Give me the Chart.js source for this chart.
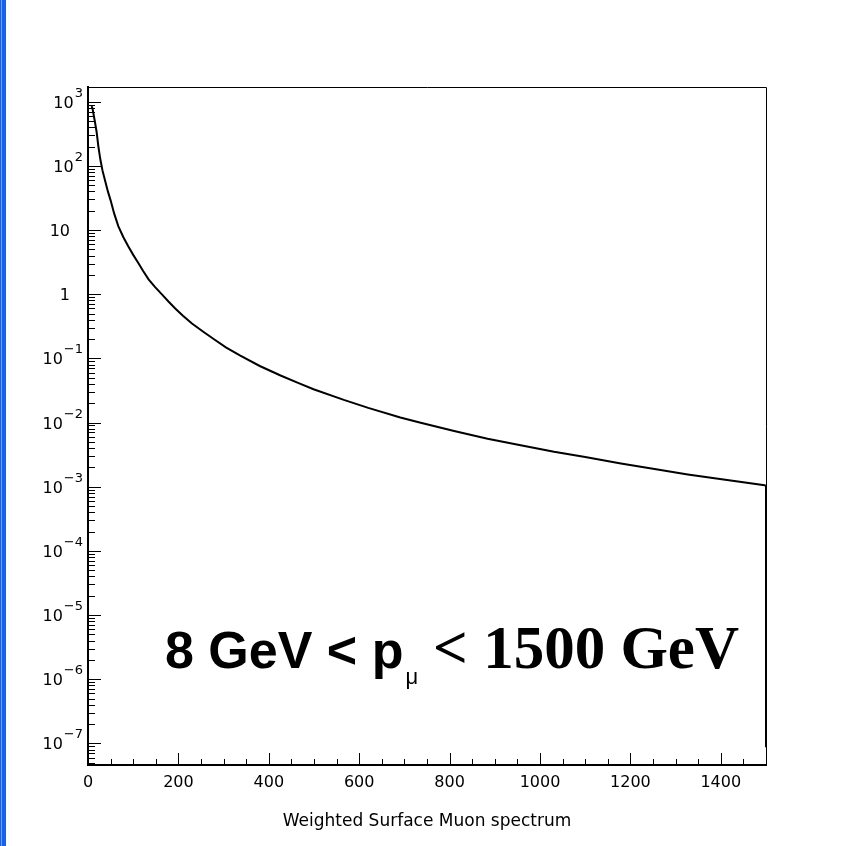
<!DOCTYPE html>
<html><head><meta charset="utf-8">
<script src="https://cdn.jsdelivr.net/npm/chart.js@4"></script>
<style>html,body{margin:0;padding:0;background:#fff;}canvas{display:block;}</style>
</head><body>
<canvas id="c" width="842" height="846"></canvas>
<script>
// Weighted surface muon spectrum
const momentum = [8, 10, 15, 19, 23, 27, 32, 38, 44, 50, 58, 67, 78, 89, 100, 111, 122, 134, 148, 163, 178, 193, 210, 230, 255, 278, 305, 337, 380, 426, 466, 499, 566, 620, 691, 736, 810, 884, 960, 1031, 1100, 1179, 1250, 1327, 1410, 1497, 1500, 1500];
const counts = [850, 780, 500, 340, 200, 130, 85, 58, 40, 29, 18, 11.5, 7.8, 5.6, 4.1, 3.1, 2.3, 1.7, 1.3, 1.0, 0.77, 0.60, 0.46, 0.35, 0.26, 0.20, 0.148, 0.11, 0.076, 0.054, 0.041, 0.033, 0.0225, 0.0169, 0.0120, 0.0099, 0.0074, 0.0056, 0.0044, 0.0035, 0.0029, 0.0023, 0.0019, 0.00155, 0.00128, 0.00105, 0.00103, 8.7e-8];
const yTickValues = [1e-7, 1e-6, 1e-5, 1e-4, 1e-3, 1e-2, 1e-1, 1, 10, 100, 1000];
const yTickBase = ['10', '10', '10', '10', '10', '10', '10', '1', '10', '10', '10'];
const yTickExp = ['\u22127', '\u22126', '\u22125', '\u22124', '\u22123', '\u22122', '\u22121', '', '', '2', '3'];
const xTickValues = [0, 200, 400, 600, 800, 1000, 1200, 1400];
const xTickLabels = ['0', '200', '400', '600', '800', '1000', '1200', '1400'];
const xTitle = 'Weighted Surface Muon spectrum';
const noteLeft = '8 GeV < p';
const noteSub = '\u03BC';
const noteRight = '< 1500 GeV';

const Y_MIN = 4.6e-8, Y_MAX = 1694, X_MIN = 0, X_MAX = 1500;

const decor = {
  id: 'decor',
  beforeDraw(chart) {
    const ctx = chart.ctx;
    ctx.save();
    ctx.fillStyle = '#ffffff';
    ctx.fillRect(0, 0, chart.width, chart.height);
    ctx.fillStyle = '#1560f2';
    ctx.fillRect(0, 0, 6, chart.height);
    ctx.fillStyle = '#6fa0ff';
    ctx.fillRect(1, 0, 1, chart.height);
    ctx.restore();
  },
  afterDatasetsDraw(chart) {
    const ctx = chart.ctx;
    const a = chart.chartArea;
    const xs = chart.scales.x, ys = chart.scales.y;
    ctx.save();
    // top & right frame
    ctx.strokeStyle = '#000';
    ctx.lineWidth = 1;
    ctx.beginPath();
    ctx.moveTo(a.left, a.top + 0.5); ctx.lineTo(a.right + 0.5, a.top + 0.5);
    ctx.lineTo(a.right + 0.5, a.bottom);
    ctx.stroke();
    // inner ticks on y
    ctx.beginPath();
    for (let e = -8; e <= 3; e++) {
      for (let m = 1; m <= 9; m++) {
        const v = m * Math.pow(10, e);
        if (v < Y_MIN || v > Y_MAX) continue;
        const py = Math.round(ys.getPixelForValue(v)) + 0.5;
        const len = m === 1 ? 13 : 7;
        ctx.moveTo(a.left, py); ctx.lineTo(a.left + len, py);
      }
    }
    // inner ticks on x
    for (let v = X_MIN; v <= X_MAX; v += 50) {
      const px = Math.round(xs.getPixelForValue(v)) + 0.5;
      const len = (v % 200 === 0) ? 12 : 6;
      ctx.moveTo(px, a.bottom); ctx.lineTo(px, a.bottom - len);
    }
    ctx.stroke();
    // y tick labels with raised exponents
    ctx.fillStyle = '#000';
    ctx.textBaseline = 'alphabetic';
    ctx.textAlign = 'left';
    const baseFont = '16px "DejaVu Sans", sans-serif';
    const expFont = '13px "DejaVu Sans", sans-serif';
    yTickValues.forEach((v, i) => {
      const py = ys.getPixelForValue(v);
      const b = yTickBase[i], ex = yTickExp[i];
      ctx.font = baseFont;
      const bw = ctx.measureText(b).width;
      if (ex) {
        ctx.font = expFont;
        const ew = ctx.measureText(ex).width;
        const right = 83;
        ctx.fillText(ex, right - ew, py - 5);
        ctx.font = baseFont;
        ctx.fillText(b, right - ew - bw - 1, py + 6);
      } else {
        ctx.font = baseFont;
        ctx.fillText(b, 70 - bw, py + 6);
      }
    });
    // annotation
    let x = 165; const base = 668;
    ctx.font = 'bold 52px "Liberation Sans", Arial, sans-serif';
    ctx.fillText(noteLeft, x, base);
    x += ctx.measureText(noteLeft).width + 2;
    ctx.font = '22px "Liberation Sans", Arial, sans-serif';
    ctx.fillText(noteSub, x, base + 16);
    x += ctx.measureText(noteSub).width + 15;
    ctx.font = 'bold 61px "Liberation Serif", "Times New Roman", serif';
    ctx.fillText(noteRight, x, base);
    ctx.restore();
  }
};

new Chart(document.getElementById('c'), {
  type: 'line',
  data: {
    datasets: [{
      data: momentum.map((p, i) => ({ x: p, y: counts[i] })),
      borderColor: '#000',
      borderWidth: 2,
      pointRadius: 0,
      tension: 0,
      fill: false
    }]
  },
  options: {
    responsive: false,
    animation: false,
    devicePixelRatio: 1,
    layout: { padding: { left: 0, top: 87, right: 76, bottom: 0 } },
    plugins: { legend: { display: false }, tooltip: { enabled: false }, title: { display: false } },
    scales: {
      x: {
        type: 'linear',
        min: X_MIN, max: X_MAX,
        afterBuildTicks(s) { s.ticks = xTickValues.map(v => ({ value: v })); },
        afterFit(s) { s.height = 81; },
        grid: { display: true, drawOnChartArea: false, drawTicks: false },
        border: { display: true, color: '#000', width: 2 },
        ticks: {
          color: '#000', padding: 8, maxRotation: 0, autoSkip: false,
          font: { family: '"DejaVu Sans"', size: 16 },
          callback: (v, i) => xTickLabels[i]
        },
        title: {
          display: true, text: xTitle, color: '#000',
          font: { family: '"DejaVu Sans"', size: 17 },
          padding: { top: 0, bottom: 14 }
        }
      },
      y: {
        type: 'logarithmic',
        min: Y_MIN, max: Y_MAX,
        afterBuildTicks(s) { s.ticks = yTickValues.map(v => ({ value: v })); },
        afterFit(s) { s.width = 88; },
        grid: { display: true, drawOnChartArea: false, drawTicks: false },
        border: { display: true, color: '#000', width: 2 },
        ticks: { display: false }
      }
    }
  },
  plugins: [decor]
});
</script>
</body></html>
